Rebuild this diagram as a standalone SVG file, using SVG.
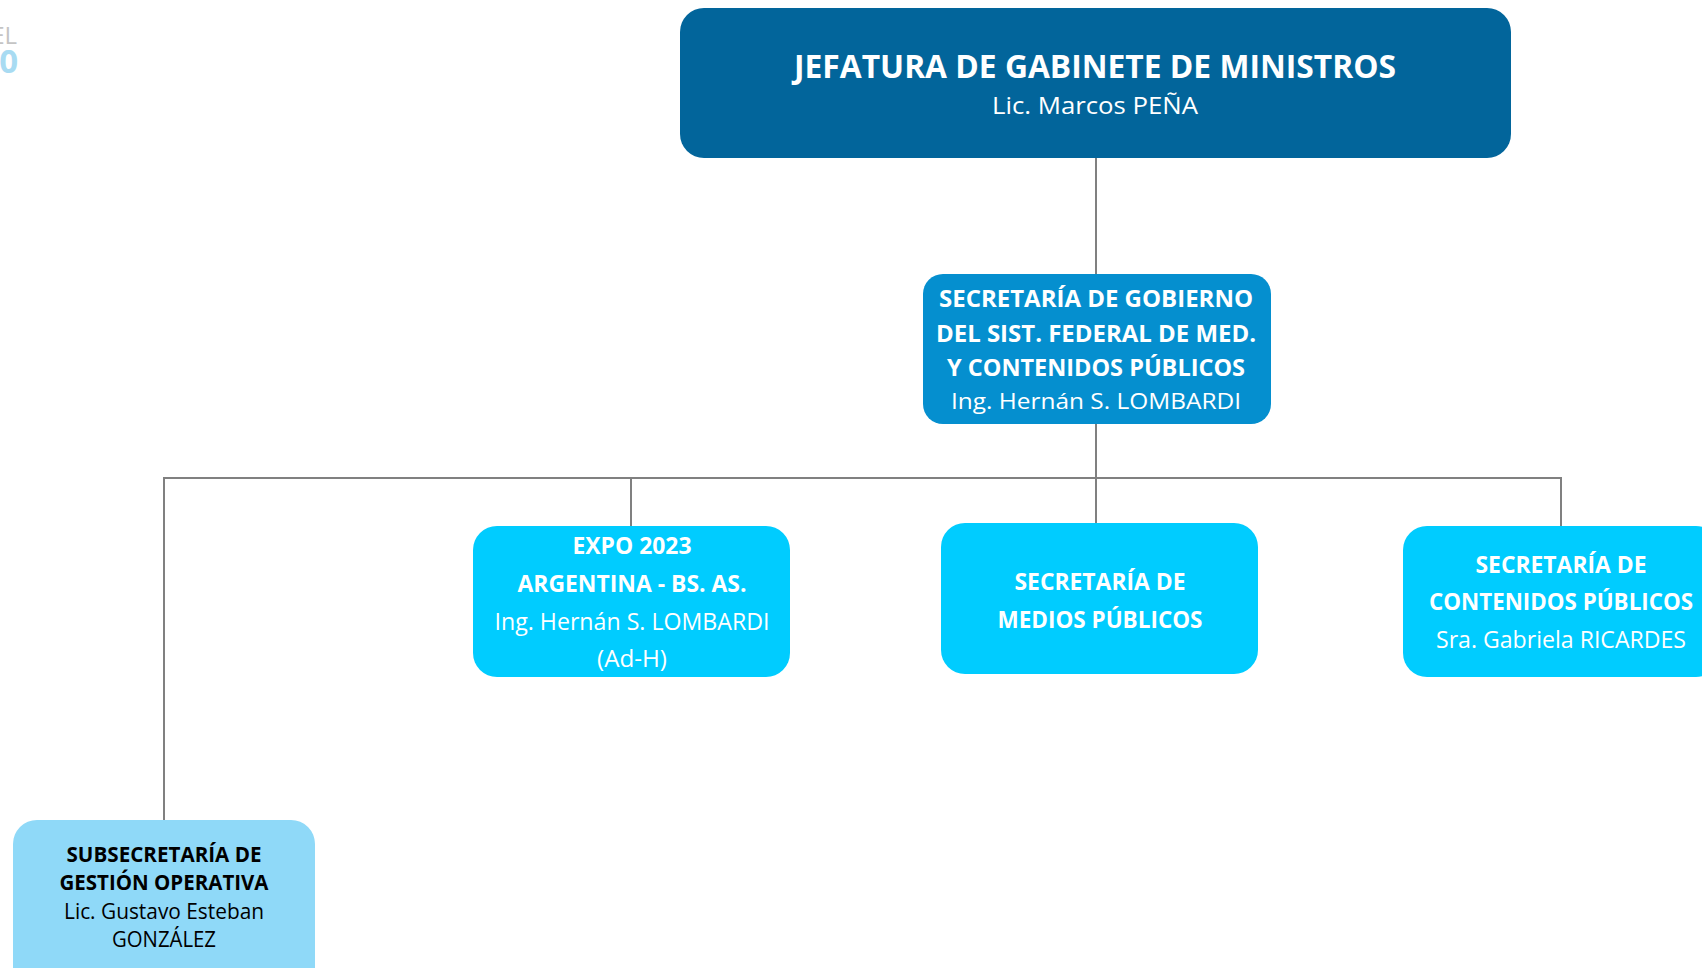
<svg xmlns="http://www.w3.org/2000/svg" width="1702" height="968" viewBox="0 0 1702 968">
<style>
text{font-family:"Open Sans","Liberation Sans",sans-serif;text-anchor:middle}
.b{font-weight:bold}
.w{fill:#ffffff}
.k{fill:#000000}
.conn{stroke:#808080;stroke-width:2;fill:none}
</style>
<rect width="1702" height="968" fill="#ffffff"/>
<g id="logo">
<text x="17" y="44" style="text-anchor:end;font-size:24px;fill:#c4c4c4">EL</text>
<text x="18" y="73" class="b" style="text-anchor:end;font-size:33px;fill:#a8dbf2">0</text>
</g>
<g id="connectors">
<line class="conn" x1="1096" y1="158" x2="1096" y2="274"/>
<line class="conn" x1="1096" y1="424" x2="1096" y2="523"/>
<line class="conn" x1="164" y1="478" x2="1561" y2="478"/>
<line class="conn" x1="164" y1="477" x2="164" y2="820"/>
<line class="conn" x1="631" y1="477" x2="631" y2="526"/>
<line class="conn" x1="1561" y1="477" x2="1561" y2="526"/>
</g>
<g id="jefatura">
<rect x="680" y="8" width="831" height="150" rx="24" fill="#02659b"/>
<text x="1095" y="78" class="b w" style="font-size:33px" textLength="602" lengthAdjust="spacingAndGlyphs">JEFATURA DE GABINETE DE MINISTROS</text>
<text x="1095" y="114" class="w" style="font-size:24px" textLength="206" lengthAdjust="spacingAndGlyphs">Lic. Marcos PEÑA</text>
</g>
<g id="sec-gobierno">
<rect x="923" y="274" width="348" height="150" rx="20" fill="#058fcf"/>
<text x="1096" y="307" class="b w" style="font-size:22.5px" textLength="314" lengthAdjust="spacingAndGlyphs">SECRETARÍA DE GOBIERNO</text>
<text x="1096" y="342" class="b w" style="font-size:22.5px" textLength="320" lengthAdjust="spacingAndGlyphs">DEL SIST. FEDERAL DE MED.</text>
<text x="1096" y="376" class="b w" style="font-size:22.5px" textLength="298" lengthAdjust="spacingAndGlyphs">Y CONTENIDOS PÚBLICOS</text>
<text x="1096" y="409" class="w" style="font-size:22.5px" textLength="290" lengthAdjust="spacingAndGlyphs">Ing. Hernán S. LOMBARDI</text>
</g>
<g id="expo">
<rect x="473" y="526" width="317" height="151" rx="24" fill="#00ccff"/>
<text x="632" y="554" class="b w" style="font-size:23px" textLength="119" lengthAdjust="spacingAndGlyphs">EXPO 2023</text>
<text x="632" y="592" class="b w" style="font-size:23px" textLength="229" lengthAdjust="spacingAndGlyphs">ARGENTINA - BS. AS.</text>
<text x="632" y="630" class="w" style="font-size:23px" textLength="275" lengthAdjust="spacingAndGlyphs">Ing. Hernán S. LOMBARDI</text>
<text x="632" y="667" class="w" style="font-size:23px" textLength="70" lengthAdjust="spacingAndGlyphs">(Ad-H)</text>
</g>
<g id="medios">
<rect x="941" y="523" width="317" height="151" rx="24" fill="#00ccff"/>
<text x="1100" y="590" class="b w" style="font-size:23px" textLength="171" lengthAdjust="spacingAndGlyphs">SECRETARÍA DE</text>
<text x="1100" y="628" class="b w" style="font-size:23px" textLength="205" lengthAdjust="spacingAndGlyphs">MEDIOS PÚBLICOS</text>
</g>
<g id="contenidos">
<rect x="1403" y="526" width="317" height="151" rx="24" fill="#00ccff"/>
<text x="1561" y="573" class="b w" style="font-size:23px" textLength="171" lengthAdjust="spacingAndGlyphs">SECRETARÍA DE</text>
<text x="1561" y="610" class="b w" style="font-size:23px" textLength="264" lengthAdjust="spacingAndGlyphs">CONTENIDOS PÚBLICOS</text>
<text x="1561" y="648" class="w" style="font-size:23px" textLength="250" lengthAdjust="spacingAndGlyphs">Sra. Gabriela RICARDES</text>
</g>
<g id="subsecretaria">
<rect x="13" y="820" width="302" height="180" rx="24" fill="#8fd9f8"/>
<text x="164" y="862" class="b k" style="font-size:21px" textLength="195" lengthAdjust="spacingAndGlyphs">SUBSECRETARÍA DE</text>
<text x="164" y="890" class="b k" style="font-size:21px" textLength="209" lengthAdjust="spacingAndGlyphs">GESTIÓN OPERATIVA</text>
<text x="164" y="919" class="k" style="font-size:21px" textLength="200" lengthAdjust="spacingAndGlyphs">Lic. Gustavo Esteban</text>
<text x="164" y="947" class="k" style="font-size:21px" textLength="104" lengthAdjust="spacingAndGlyphs">GONZÁLEZ</text>
</g>
</svg>
